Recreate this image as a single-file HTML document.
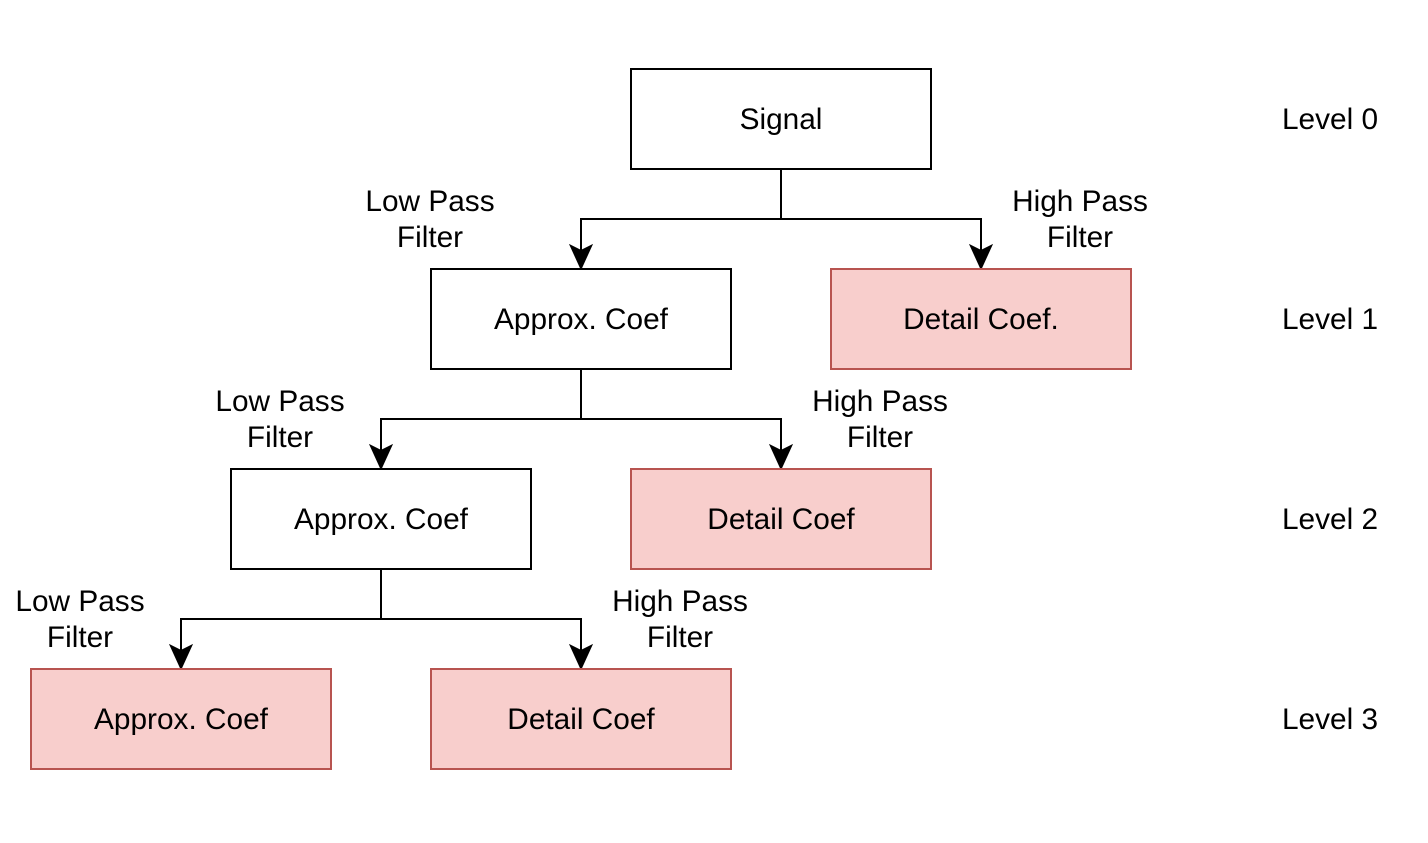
<!DOCTYPE html>
<html><head><style>
html,body{margin:0;padding:0;background:#fff;}
svg{display:block;}
text{font-family:"Liberation Sans",Arial,sans-serif;font-size:29.8px;fill:#000;}
</style></head><body>
<svg width="1428" height="843" viewBox="0 0 1428 843" xmlns="http://www.w3.org/2000/svg">
<g fill="none" stroke="#000" stroke-width="2">
<path d="M781 169V219H581V252M781 219H981V252"/>
<path d="M581 369V419H381V452M581 419H781V452"/>
<path d="M381 569V619H181V652M381 619H581V652"/>
</g>
<g fill="#000" stroke="#000" stroke-width="2" stroke-linejoin="miter">
<path d="M581 268L571 246L581 251L591 246Z"/>
<path d="M981 268L971 246L981 251L991 246Z"/>
<path d="M381 468L371 446L381 451L391 446Z"/>
<path d="M781 468L771 446L781 451L791 446Z"/>
<path d="M181 668L171 646L181 651L191 646Z"/>
<path d="M581 668L571 646L581 651L591 646Z"/>
</g>
<g stroke-width="2">
<rect x="631" y="69" width="300" height="100" fill="#fff" stroke="#000"/>
<rect x="431" y="269" width="300" height="100" fill="#fff" stroke="#000"/>
<rect x="831" y="269" width="300" height="100" fill="#f8cecc" stroke="#b85450"/>
<rect x="231" y="469" width="300" height="100" fill="#fff" stroke="#000"/>
<rect x="631" y="469" width="300" height="100" fill="#f8cecc" stroke="#b85450"/>
<rect x="31" y="669" width="300" height="100" fill="#f8cecc" stroke="#b85450"/>
<rect x="431" y="669" width="300" height="100" fill="#f8cecc" stroke="#b85450"/>
</g>
<g text-anchor="middle">
<text x="781" y="129">Signal</text>
<text x="581" y="329">Approx. Coef</text>
<text x="981" y="329">Detail Coef.</text>
<text x="381" y="529">Approx. Coef</text>
<text x="781" y="529">Detail Coef</text>
<text x="181" y="729">Approx. Coef</text>
<text x="581" y="729">Detail Coef</text>
<text x="430" y="211">Low Pass</text><text x="430" y="247">Filter</text>
<text x="1080" y="211">High Pass</text><text x="1080" y="247">Filter</text>
<text x="280" y="411">Low Pass</text><text x="280" y="447">Filter</text>
<text x="880" y="411">High Pass</text><text x="880" y="447">Filter</text>
<text x="80" y="611">Low Pass</text><text x="80" y="647">Filter</text>
<text x="680" y="611">High Pass</text><text x="680" y="647">Filter</text>
<text x="1330" y="129">Level 0</text>
<text x="1330" y="329">Level 1</text>
<text x="1330" y="529">Level 2</text>
<text x="1330" y="729">Level 3</text>
</g>
</svg>
</body></html>
